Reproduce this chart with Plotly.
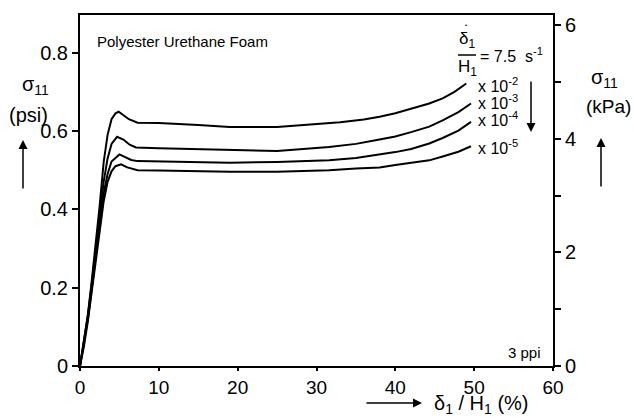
import plotly.graph_objects as go

# ---- data ----
strain_1 = [0, 0.5, 1, 1.5, 2, 2.5, 3, 3.5, 4, 4.5, 4.9, 5.5, 6.2, 7.3, 10, 15, 19, 25, 29.5, 33, 36, 38, 40, 42, 44.3, 46, 47.5, 49]
stress_1 = [0, 0.06, 0.13, 0.22, 0.31, 0.41, 0.52, 0.59, 0.63, 0.645, 0.649, 0.64, 0.63, 0.621, 0.62, 0.615, 0.61, 0.61, 0.617, 0.622, 0.629, 0.636, 0.645, 0.656, 0.67, 0.683, 0.70, 0.721]

strain_2 = [0, 0.5, 1, 1.5, 2, 2.5, 3, 3.5, 4, 4.7, 5.5, 6.3, 7.1, 10, 15, 19, 25, 31.6, 35, 38, 40, 42, 44.3, 46, 48, 49.6]
stress_2 = [0, 0.06, 0.13, 0.21, 0.30, 0.39, 0.47, 0.53, 0.567, 0.585, 0.578, 0.565, 0.558, 0.556, 0.554, 0.553, 0.549, 0.559, 0.567, 0.578, 0.586, 0.597, 0.611, 0.627, 0.648, 0.67]

strain_3 = [0, 0.5, 1, 1.5, 2, 2.5, 3, 3.5, 4, 5, 5.8, 6.5, 7.3, 10, 15, 19, 25, 31.6, 35, 38, 40, 42, 44.3, 46, 48, 49.6]
stress_3 = [0, 0.055, 0.12, 0.20, 0.28, 0.36, 0.44, 0.49, 0.522, 0.54, 0.533, 0.526, 0.523, 0.522, 0.52, 0.519, 0.521, 0.525, 0.531, 0.54, 0.546, 0.554, 0.568, 0.582, 0.601, 0.623]

strain_4 = [0, 0.5, 1, 1.5, 2, 2.5, 3, 3.5, 4, 4.5, 5.2, 6, 7.3, 10, 15, 19, 25, 31.6, 35, 38, 40, 42, 44.3, 46, 48, 49.6]
stress_4 = [0, 0.05, 0.115, 0.19, 0.27, 0.35, 0.42, 0.47, 0.497, 0.51, 0.515, 0.507, 0.50, 0.499, 0.497, 0.496, 0.496, 0.50, 0.504, 0.507, 0.513, 0.518, 0.525, 0.535, 0.547, 0.561]

rate_labels = ["x 10<sup>-2</sup>", "x 10<sup>-3</sup>", "x 10<sup>-4</sup>", "x 10<sup>-5</sup>"]

x_ticks = [0, 10, 20, 30, 40, 50, 60]
y_ticks = [0, 0.2, 0.4, 0.6, 0.8]
y_ticklabels = ["0", "0.2", "0.4", "0.6", "0.8"]
kpa_ticks = [0, 1, 2, 3, 4, 5, 6]
kpa_ticklabels = ["0", "", "2", "", "4", "", "6"]

PSI_TO_KPA = 6.895
Y_MAX = 0.896

FONT = "Liberation Sans, Arial, Helvetica, sans-serif"

# plot area in pixels (for placing text)
W, H = 634, 418
L, R, T, B = 80, 81, 15, 52
PW, PH = W - L - R, H - T - B


def px(x):
    return (x - L) / PW


def py(y):
    return (H - B - y) / PH


fig = go.Figure()
for xs, ys in [(strain_1, stress_1), (strain_2, stress_2), (strain_3, stress_3), (strain_4, stress_4)]:
    fig.add_trace(go.Scatter(x=xs, y=ys, mode="lines", line=dict(color="black", width=2),
                             showlegend=False, hoverinfo="skip"))

# dummy trace to activate secondary axis
fig.add_trace(go.Scatter(x=[0], y=[0], yaxis="y2", mode="markers", marker=dict(opacity=0),
                         showlegend=False, hoverinfo="skip"))

ann = []


def add_text(text, x, y, size, xanchor="left", yanchor="middle"):
    ann.append(dict(text=text, x=px(x), y=py(y), xref="paper", yref="paper", showarrow=False,
                    xanchor=xanchor, yanchor=yanchor, font=dict(size=size, color="black", family=FONT)))


add_text("Polyester Urethane Foam", 95, 42, 15)

# left axis label
add_text("σ<sub>11</sub>", 20, 85, 20)
add_text("(psi)", 7, 115, 20)
# right axis label
add_text("σ<sub>11</sub>", 589, 78, 20)
add_text("(kPa)", 584, 106, 19)

# rate labels
add_text("•", 466, 25, 6, xanchor="center")
add_text("δ<sub>1</sub>", 467, 40, 17, xanchor="center")
add_text("H<sub>1</sub>", 467, 68, 17, xanchor="center")
add_text("= 7.5  s<sup>-1</sup>", 478, 55, 16)
rate_y = [85, 102, 119, 147]
for lab, yy in zip(rate_labels, rate_y):
    add_text(lab, 476, yy, 16)

add_text("3 ppi", 506, 352, 15)
add_text("δ<sub>1</sub> / H<sub>1</sub> (%)", 432, 404, 20)


# arrows (head at x1,y1; tail offset in pixels)
def arrow(x0, y0, x1, y1):
    ann.append(dict(x=px(x1), y=py(y1), ax=x0 - x1, ay=y0 - y1, xref="paper", yref="paper",
                    axref="pixel", ayref="pixel", showarrow=True, arrowhead=2, arrowsize=1.2,
                    arrowwidth=1.5, arrowcolor="black", text=""))


arrow(23, 190, 23, 140)
arrow(601, 188, 601, 138)
arrow(531, 80, 531, 132)
arrow(365, 403, 422, 403)

shapes = [dict(type="line", xref="paper", yref="paper", x0=px(458), x1=px(476), y0=py(55), y1=py(55),
               line=dict(color="black", width=1.5))]

fig.update_layout(
    width=W, height=H,
    margin=dict(l=L, r=R, t=T, b=B),
    paper_bgcolor="white", plot_bgcolor="white",
    font=dict(family=FONT, color="black"),
    annotations=ann, shapes=shapes,
    xaxis=dict(range=[0, 60], tickvals=x_ticks, ticks="outside", ticklen=3, tickwidth=1.5,
               showline=True, linecolor="black", linewidth=2, mirror=True, showgrid=False,
               zeroline=False, tickfont=dict(size=19), tickcolor="black"),
    yaxis=dict(range=[0, Y_MAX], tickvals=y_ticks, ticktext=y_ticklabels, ticks="outside", ticklen=6,
               tickwidth=1.5, showline=True, linecolor="black", linewidth=2, showgrid=False,
               zeroline=False, tickfont=dict(size=20), tickcolor="black"),
    yaxis2=dict(range=[0, Y_MAX * PSI_TO_KPA], overlaying="y", side="right", tickvals=kpa_ticks,
                ticktext=kpa_ticklabels, ticks="outside", ticklen=6, tickwidth=1.5, showline=True,
                linecolor="black", linewidth=2, showgrid=False, zeroline=False,
                tickfont=dict(size=20), tickcolor="black"),
)

fig.write_html("out.html")
